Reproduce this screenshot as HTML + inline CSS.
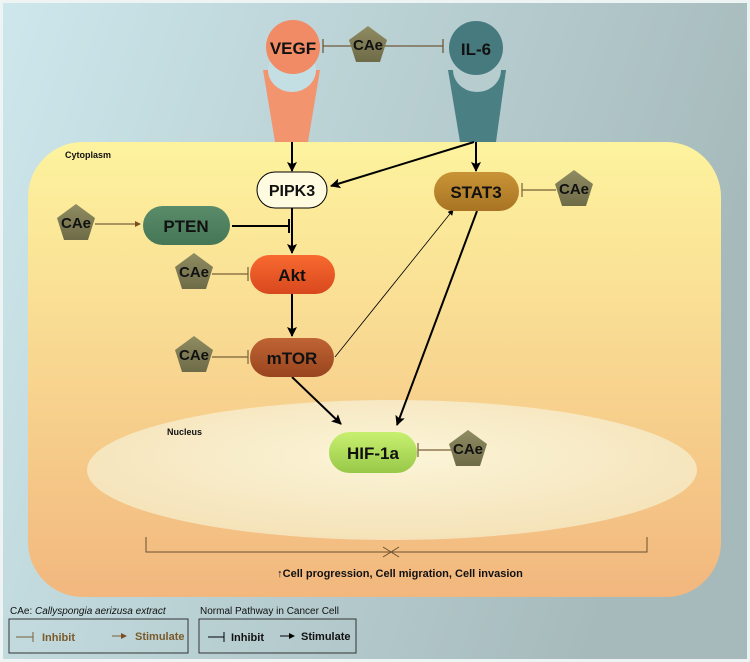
<!DOCTYPE html>
<html><head><style>
html,body{margin:0;padding:0;width:750px;height:662px;overflow:hidden;background:#fff}
svg text{font-family:"Liberation Sans",Arial,sans-serif;font-weight:bold}
</style></head><body>
<svg width="750" height="662" viewBox="0 0 750 662" xmlns="http://www.w3.org/2000/svg">
<defs>
<linearGradient id="bg" x1="0" y1="0" x2="1" y2="0.3"><stop offset="0" stop-color="#cde7ec"/><stop offset="1" stop-color="#a6babb"/></linearGradient>
<linearGradient id="cy" x1="0" y1="0" x2="0" y2="1"><stop offset="0" stop-color="#fdf39e"/><stop offset="0.5" stop-color="#f8d690"/><stop offset="1" stop-color="#f2b77e"/></linearGradient>
<radialGradient id="nu" cx="0.5" cy="0.4" r="0.6"><stop offset="0" stop-color="#fbf5d8"/><stop offset="1" stop-color="#f5e2b8"/></radialGradient>
<linearGradient id="pent" x1="0" y1="0" x2="0" y2="1"><stop offset="0" stop-color="#8f8c62"/><stop offset="1" stop-color="#6e6b48"/></linearGradient>
<linearGradient id="akt" x1="0" y1="0" x2="0" y2="1"><stop offset="0" stop-color="#f86a30"/><stop offset="1" stop-color="#d8481e"/></linearGradient>
<linearGradient id="mtor" x1="0" y1="0" x2="0" y2="1"><stop offset="0" stop-color="#c06434"/><stop offset="1" stop-color="#98441f"/></linearGradient>
<linearGradient id="stat" x1="0" y1="0" x2="0" y2="1"><stop offset="0" stop-color="#c99436"/><stop offset="1" stop-color="#a87424"/></linearGradient>
<linearGradient id="hif" x1="0" y1="0" x2="0" y2="1"><stop offset="0" stop-color="#c8f070"/><stop offset="1" stop-color="#98c848"/></linearGradient>
<linearGradient id="pten" x1="0" y1="0" x2="0" y2="1"><stop offset="0" stop-color="#5a8c6a"/><stop offset="1" stop-color="#457656"/></linearGradient>
<marker id="ah" markerWidth="10" markerHeight="10" refX="9" refY="5" orient="auto" markerUnits="userSpaceOnUse"><path d="M0,0 L10,5 L0,10 L2,5z" fill="#000"/></marker>
<marker id="ahs" markerWidth="6" markerHeight="6" refX="5" refY="3" orient="auto" markerUnits="userSpaceOnUse"><path d="M0,0 L6,3 L0,6z" fill="#000"/></marker>
<marker id="ahb" markerWidth="6" markerHeight="6" refX="5" refY="3" orient="auto" markerUnits="userSpaceOnUse"><path d="M0,0 L6,3 L0,6z" fill="#7a5020"/></marker>
<g id="p"><polygon points="0,-19 19,-5 12,17 -12,17 -19,-5" fill="url(#pent)"/><text x="0" y="5" font-size="15" text-anchor="middle" fill="#111">CAe</text></g>
</defs>
<rect width="750" height="662" fill="#eef4f4"/>
<rect x="3" y="3" width="744" height="656" fill="url(#bg)"/>
<rect x="28" y="142" width="693" height="455" rx="55" fill="url(#cy)"/>
<ellipse cx="392" cy="470" rx="305" ry="70" fill="url(#nu)"/>
<path d="M263,70 L320,70 L308,142 L275,142 Z" fill="#f2956e"/>
<ellipse cx="292" cy="70" rx="24" ry="22" fill="#c4dfe3"/>
<circle cx="293" cy="47" r="27" fill="#f08b66"/>
<text x="293" y="54" font-size="17" text-anchor="middle" fill="#111">VEGF</text>
<path d="M448,70 L506,70 L496,142 L460,142 Z" fill="#4a7f83"/>
<ellipse cx="477" cy="70" rx="24" ry="22" fill="#b6ccce"/>
<circle cx="476" cy="48" r="27" fill="#477a7e"/>
<text x="476" y="55" font-size="17" text-anchor="middle" fill="#111">IL-6</text>
<g stroke="#6e5a3a" stroke-width="1.3"><line x1="323" y1="46" x2="352" y2="46"/><line x1="323" y1="39" x2="323" y2="53"/><line x1="384" y1="46" x2="443" y2="46"/><line x1="443" y1="39" x2="443" y2="53"/></g>
<use href="#p" x="368" y="45"/>
<text x="65" y="158" font-size="9" fill="#111">Cytoplasm</text>
<text x="167" y="435" font-size="9" fill="#111">Nucleus</text>
<g stroke="#000" stroke-width="2" fill="none">
<line x1="292" y1="142" x2="292" y2="171" marker-end="url(#ah)"/>
<line x1="476" y1="142" x2="476" y2="171" marker-end="url(#ah)"/>
<line x1="474" y1="142" x2="331" y2="186" marker-end="url(#ah)"/>
<line x1="292" y1="208" x2="292" y2="253" marker-end="url(#ah)"/>
<line x1="232" y1="226" x2="289" y2="226"/><line x1="289" y1="219" x2="289" y2="233"/>
<line x1="292" y1="294" x2="292" y2="336" marker-end="url(#ah)"/>
<line x1="292" y1="377" x2="341" y2="424" marker-end="url(#ah)"/>
<line x1="477" y1="211" x2="397" y2="425" marker-end="url(#ah)"/>
</g>
<line x1="335" y1="357" x2="453" y2="210" stroke="#000" stroke-width="0.8" marker-end="url(#ahs)"/>
<g stroke="#7a6038" stroke-width="1.2">
<line x1="95" y1="224" x2="140" y2="224" marker-end="url(#ahb)"/>
<line x1="212" y1="274" x2="248" y2="274"/><line x1="248" y1="267" x2="248" y2="281"/>
<line x1="212" y1="357" x2="248" y2="357"/><line x1="248" y1="350" x2="248" y2="364"/>
<line x1="522" y1="190" x2="556" y2="190"/><line x1="522" y1="183" x2="522" y2="197"/>
<line x1="418" y1="450" x2="452" y2="450"/><line x1="418" y1="443" x2="418" y2="457"/>
</g>
<rect x="257" y="172" width="70" height="36" rx="18" fill="#fffbe0" stroke="#000" stroke-width="1"/>
<text x="292" y="196" font-size="16" text-anchor="middle" fill="#111">PIPK3</text>
<rect x="434" y="172" width="85" height="39" rx="19.5" fill="url(#stat)"/>
<text x="476" y="198" font-size="17" text-anchor="middle" fill="#111">STAT3</text>
<rect x="143" y="206" width="87" height="39" rx="19.5" fill="url(#pten)"/>
<text x="186" y="232" font-size="17" text-anchor="middle" fill="#111">PTEN</text>
<rect x="250" y="255" width="85" height="39" rx="19.5" fill="url(#akt)"/>
<text x="292" y="281" font-size="17" text-anchor="middle" fill="#111">Akt</text>
<rect x="250" y="338" width="84" height="39" rx="19.5" fill="url(#mtor)"/>
<text x="292" y="364" font-size="17" text-anchor="middle" fill="#111">mTOR</text>
<rect x="329" y="432" width="88" height="41" rx="20.5" fill="url(#hif)"/>
<text x="373" y="459" font-size="17" text-anchor="middle" fill="#111">HIF-1a</text>
<use href="#p" x="76" y="223"/>
<use href="#p" x="194" y="272"/>
<use href="#p" x="194" y="355"/>
<use href="#p" x="574" y="189"/>
<use href="#p" x="468" y="449"/>
<g stroke="#6a5030" stroke-width="1" fill="none">
<path d="M146,537 L146,552 L647,552 L647,537"/>
<line x1="383" y1="547" x2="399" y2="557"/><line x1="383" y1="557" x2="399" y2="547"/>
</g>
<text x="400" y="577" font-size="11" text-anchor="middle" fill="#111">↑Cell progression, Cell migration, Cell invasion</text>
<text x="10" y="614" font-size="10" fill="#111" style="font-weight:normal">CAe: <tspan font-style="italic">Callyspongia aerizusa extract</tspan></text>
<rect x="9" y="619" width="179" height="34" fill="none" stroke="#333" stroke-width="1"/>
<g stroke="#7a6038" stroke-width="1"><line x1="16" y1="637" x2="33" y2="637"/><line x1="33" y1="632" x2="33" y2="642"/><line x1="112" y1="636" x2="126" y2="636" marker-end="url(#ahb)"/></g>
<text x="42" y="641" font-size="11" fill="#7a5a2a">Inhibit</text>
<text x="135" y="640" font-size="11" fill="#7a5a2a">Stimulate</text>
<text x="200" y="614" font-size="10" fill="#111" style="font-weight:normal">Normal Pathway in Cancer Cell</text>
<rect x="199" y="619" width="157" height="34" fill="none" stroke="#333" stroke-width="1"/>
<g stroke="#000" stroke-width="1"><line x1="208" y1="637" x2="224" y2="637"/><line x1="224" y1="632" x2="224" y2="642"/><line x1="280" y1="636" x2="294" y2="636" marker-end="url(#ahs)"/></g>
<text x="231" y="641" font-size="11" fill="#111">Inhibit</text>
<text x="301" y="640" font-size="11" fill="#111">Stimulate</text>
</svg>
</body></html>
